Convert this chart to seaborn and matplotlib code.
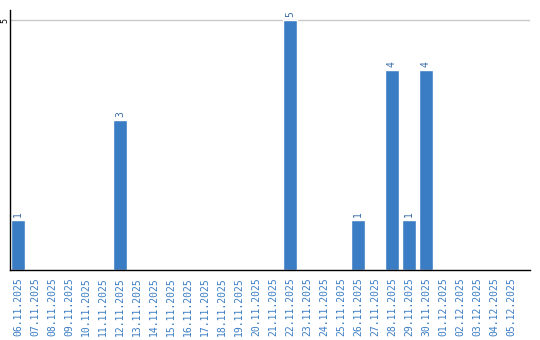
import matplotlib
matplotlib.use("Agg")
import matplotlib.pyplot as plt
import seaborn as sns
import pandas as pd

dates = ["06.11.2025", "07.11.2025", "08.11.2025", "09.11.2025", "10.11.2025",
         "11.11.2025", "12.11.2025", "13.11.2025", "14.11.2025", "15.11.2025",
         "16.11.2025", "17.11.2025", "18.11.2025", "19.11.2025", "20.11.2025",
         "21.11.2025", "22.11.2025", "23.11.2025", "24.11.2025", "25.11.2025",
         "26.11.2025", "27.11.2025", "28.11.2025", "29.11.2025", "30.11.2025",
         "01.12.2025", "02.12.2025", "03.12.2025", "04.12.2025", "05.12.2025"]
values = [1, 0, 0, 0, 0, 0, 3, 0, 0, 0, 0, 0, 0, 0, 0, 0, 5, 0, 0, 0,
          1, 0, 4, 1, 4, 0, 0, 0, 0, 0]

df = pd.DataFrame({"date": dates, "value": values})

sns.set_style("white")
fig = plt.figure(figsize=(5.4, 3.4), dpi=100)
ax = fig.add_axes([10/540, 70/340, 520/540, 260/340])

bar_color = "#3b7dc4"
sns.barplot(data=df, x="date", y="value", color=bar_color, width=0.82,
            saturation=1, ax=ax, order=dates)

for i, v in enumerate(values):
    if v > 0:
        ax.text(i, v + 0.06, str(v), rotation=90, ha="center", va="bottom",
                fontsize=7, color="#3b6ea8", family="DejaVu Sans Mono")

ax.set_ylim(0, 5.2)
ax.set_xlim(-0.47, len(dates) + 0.12)
ax.set_yticks([5])
ax.set_yticklabels(["5"], rotation=90, va="center", fontsize=6,
                   family="DejaVu Sans Mono", color="black")
ax.axhline(5, color="#c8c8c8", lw=1, zorder=0)
ax.set_xticks(range(len(dates)))
ax.set_xticklabels(dates, rotation=90, fontsize=7, family="DejaVu Sans Mono",
                   color="#3b7dc4")
ax.tick_params(axis="x", length=0, pad=5)
ax.tick_params(axis="y", length=0, pad=0.5)
ax.set_xlabel("")
ax.set_ylabel("")
for s in ["top", "right"]:
    ax.spines[s].set_visible(False)
ax.spines["left"].set_color("black")
ax.spines["bottom"].set_color("black")
ax.spines["left"].set_linewidth(1)
ax.spines["bottom"].set_linewidth(1)

fig.savefig("out.png", dpi=100)
